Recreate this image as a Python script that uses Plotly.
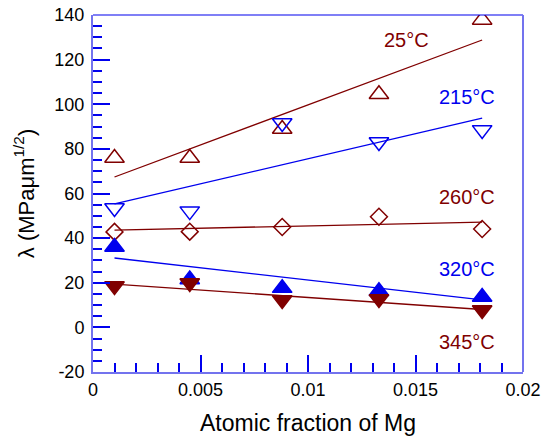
import plotly.graph_objects as go

# ---- data ----
x_mg = [0.001, 0.0045, 0.0088, 0.0133, 0.0181]

lam_25 = [75.9, 75.9, 88.9, 104.5, 137.8]
lam_215 = [53.5, 52.1, 91.6, 83.1, 88.5]
lam_260 = [42.8, 42.9, 45.0, 49.6, 44.1]
lam_320 = [36.0, 21.5, 17.6, 16.2, 13.6]
lam_345 = [18.5, 19.9, 12.3, 12.7, 7.8]

fit_x = [0.001, 0.0181]
fit_25 = [67.4, 128.8]
fit_215 = [55.3, 93.8]
fit_260 = [43.6, 47.2]
fit_320 = [31.1, 12.3]
fit_345 = [19.4, 8.0]

labels = ["25°C", "215°C", "260°C", "320°C", "345°C"]
label_x = [0.0146, 0.0174, 0.0174, 0.0174, 0.0174]
label_y = [128.8, 103.2, 58.4, 26.1, -6.6]

y_ticks = [-20, 0, 20, 40, 60, 80, 100, 120, 140]
y_ticktext = ["-20", "0", "20", "40", "60", "80", "100", "120", "140"]
x_ticks = [0, 0.005, 0.01, 0.015, 0.02]
x_ticktext = ["0", "0.005", "0.01", "0.015", "0.02"]

RED = "#800000"
BLUE = "#0000ee"
AXIS_LIGHT = "#7373ee"
FONT = "Liberation Sans, Arial"

fig = go.Figure()

series = [
    (lam_25, fit_25, RED, "triangle-up-open", 17),
    (lam_215, fit_215, BLUE, "triangle-down-open", 17),
    (lam_260, fit_260, RED, "diamond-open", 13),
    (lam_320, fit_320, BLUE, "triangle-up", 17),
    (lam_345, fit_345, RED, "triangle-down", 17),
]

for ys, fy, col, sym, sz in series:
    fig.add_trace(go.Scatter(x=fit_x, y=fy, mode="lines",
                             line=dict(color=col, width=1.3),
                             showlegend=False, hoverinfo="skip"))
for ys, fy, col, sym, sz in series:
    fig.add_trace(go.Scatter(x=x_mg, y=ys, mode="markers",
                             marker=dict(symbol=sym, size=sz, color=col,
                                         line=dict(color=col, width=1.5)),
                             showlegend=False))

label_cols = [RED, BLUE, RED, BLUE, RED]
for t, lx, ly, c in zip(labels, label_x, label_y, label_cols):
    fig.add_annotation(x=lx, y=ly, text=t, showarrow=False,
                       font=dict(size=20, color=c, family=FONT))

tick_common = dict(ticks="inside", tickcolor=BLUE, tickwidth=1.5, ticklen=17,
                   showgrid=False, zeroline=False, showline=True,
                   linecolor=AXIS_LIGHT, linewidth=2,
                   tickfont=dict(size=18, color="black", family=FONT))

fig.update_xaxes(range=[0, 0.02], tickvals=x_ticks, ticktext=x_ticktext,
                 minor=dict(dtick=0.001, ticks="inside", ticklen=9, tickcolor=BLUE, tickwidth=1.5),
                 title=dict(text="Atomic fraction of Mg", standoff=16,
                            font=dict(size=23, color="black", family=FONT)),
                 **tick_common)
fig.update_yaxes(range=[-20, 140], tickvals=y_ticks, ticktext=y_ticktext,
                 ticklabelstandoff=3,
                 minor=dict(dtick=5, ticks="inside", ticklen=9, tickcolor=BLUE, tickwidth=1.5),
                 title=dict(text="λ (MPaμm<sup style='font-size:90%'>1/2</sup>)", standoff=14,
                            font=dict(size=22, color="black", family=FONT)),
                 **tick_common)

# top and right frame lines
fig.add_shape(type="line", xref="paper", yref="paper", x0=0, x1=1, y0=1, y1=1,
              line=dict(color=BLUE, width=1.2))
fig.add_shape(type="line", xref="paper", yref="paper", x0=1, x1=1, y0=0, y1=1,
              line=dict(color=AXIS_LIGHT, width=2))

fig.update_layout(width=542, height=439,
                  margin=dict(l=93, r=19, t=15, b=67, autoexpand=False),
                  plot_bgcolor="white", paper_bgcolor="white",
                  font=dict(family=FONT, color="black"))

fig.write_html("out.html")
